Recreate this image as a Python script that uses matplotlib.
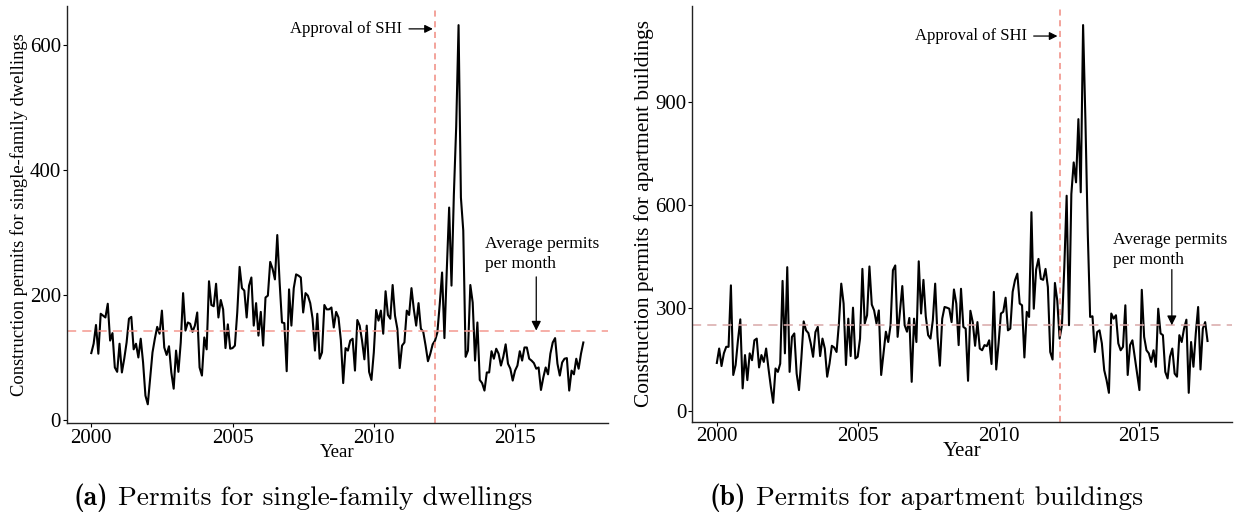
import matplotlib
matplotlib.use("Agg")
import matplotlib.pyplot as plt
import numpy as np
import pandas as pd

# monthly building permits, Jan 2000 - Jun 2017
single_family = [
    107, 122, 152, 106, 170, 167, 164, 186, 127, 139, 84, 77,
    122, 76, 98, 124, 162, 165, 113, 122, 100, 130, 92, 39,
    25, 66, 108, 130, 149, 138, 175, 116, 104, 118, 76, 50,
    111, 77, 124, 203, 143, 156, 154, 141, 151, 172, 84, 71,
    132, 113, 222, 184, 182, 218, 164, 192, 177, 115, 153, 114,
    115, 119, 172, 245, 211, 207, 164, 215, 228, 151, 187, 135,
    173, 119, 196, 199, 253, 242, 225, 296, 220, 156, 155, 78,
    209, 151, 211, 233, 231, 228, 172, 203, 199, 187, 162, 111,
    170, 98, 108, 184, 177, 177, 180, 148, 173, 164, 128, 59,
    115, 111, 127, 130, 79, 160, 151, 127, 97, 151, 77, 64,
    108, 176, 159, 175, 138, 206, 168, 162, 216, 167, 146, 83,
    119, 124, 175, 168, 211, 177, 151, 187, 146, 141, 119, 94,
    106, 121, 127, 140, 185, 236, 131, 240, 340, 215, 360, 470,
    632, 356, 303, 101, 111, 216, 188, 95, 156, 64, 59, 47,
    76, 76, 110, 98, 114, 106, 87, 101, 121, 90, 82, 63,
    79, 87, 110, 95, 116, 116, 98, 95, 91, 82, 84, 48,
    68, 84, 73, 106, 124, 131, 90, 71, 92, 98, 99, 47,
    79, 73, 98, 82, 106, 124,
]

apartments = [
    140, 182, 131, 168, 187, 187, 366, 105, 134, 206, 267, 66,
    163, 90, 168, 148, 206, 211, 127, 163, 143, 182, 124, 71,
    24, 124, 114, 138, 379, 168, 419, 114, 216, 226, 109, 61,
    153, 261, 235, 227, 197, 158, 230, 245, 160, 211, 182, 100,
    138, 190, 185, 172, 255, 371, 313, 134, 269, 160, 301, 153,
    158, 211, 414, 255, 279, 421, 310, 293, 255, 293, 105, 168,
    231, 201, 250, 410, 424, 216, 289, 364, 250, 231, 271, 85,
    269, 201, 436, 284, 382, 276, 221, 211, 264, 371, 216, 132,
    269, 303, 301, 298, 259, 354, 313, 192, 356, 245, 240, 88,
    292, 259, 190, 259, 182, 177, 192, 189, 206, 137, 347, 121,
    197, 284, 289, 330, 235, 240, 347, 381, 400, 313, 308, 156,
    289, 274, 579, 298, 412, 443, 385, 382, 414, 361, 172, 150,
    373, 322, 211, 250, 419, 627, 250, 632, 724, 666, 850, 637,
    1124, 845, 516, 274, 276, 172, 230, 235, 197, 119, 90, 53,
    284, 269, 279, 197, 177, 187, 308, 105, 192, 206, 158, 109,
    61, 353, 216, 177, 168, 143, 177, 129, 298, 226, 221, 114,
    95, 158, 182, 109, 100, 221, 201, 240, 266, 53, 201, 129,
    226, 303, 121, 240, 259, 204,
]

avg_single = 143
avg_apart = 250
shi_date = 2012.17

months = pd.date_range("2000-01-01", periods=len(single_family), freq="MS")
year = months.year + (months.month - 1) / 12

axis_font = "Liberation Serif"
salmon = "#f08a80"


def panel(ax, values, avg, yticks, ylabel, ylab_size, xlab_size, shi_y,
          avg_txt_xy, avg_arrow, avg_color):
    ax.plot(year, values, color="black", lw=1.5)
    ax.axhline(avg, color=avg_color, lw=1.1, ls=(0, (6, 4)))
    ax.axvline(shi_date, color=salmon, lw=1.1, ls=(0, (4, 3)))

    ax.set_yticks(yticks)
    ax.set_xticks([2000, 2005, 2010, 2015])
    for s in ["top", "right"]:
        ax.spines[s].set_visible(False)
    for s in ["left", "bottom"]:
        ax.spines[s].set_color("#222222")
        ax.spines[s].set_linewidth(1.0)
    ax.tick_params(length=3, width=0.8, pad=1, labelsize=15)
    for lab in ax.get_xticklabels() + ax.get_yticklabels():
        lab.set_fontfamily(axis_font)
    ax.set_xlabel("Year", fontsize=xlab_size, family=axis_font, labelpad=-3)
    ax.set_ylabel(ylabel, fontsize=ylab_size, family=axis_font, labelpad=1)

    ax.annotate("Approval of SHI", xy=(shi_date - 0.08, shi_y), xytext=(2011.0, shi_y),
                ha="right", va="center", fontsize=12, family=axis_font,
                arrowprops=dict(arrowstyle="-|>", color="black", lw=0.9,
                                mutation_scale=12, shrinkA=3, shrinkB=0))
    ax.text(avg_txt_xy[0], avg_txt_xy[1], "Average permits\nper month", ha="left",
            va="top", fontsize=12.5, family=axis_font, linespacing=1.3)
    ax.annotate("", xy=avg_arrow[1], xytext=avg_arrow[0],
                arrowprops=dict(arrowstyle="-|>", color="black", lw=0.9,
                                mutation_scale=14, shrinkA=0, shrinkB=0))


fig = plt.figure(figsize=(12.44, 5.14), dpi=100)
ax1 = fig.add_axes([0.0536, 0.1765, 0.4351, 0.8115])
ax2 = fig.add_axes([0.5565, 0.1796, 0.4339, 0.8084])

panel(ax1, single_family, avg_single, [0, 200, 400, 600],
      "Construction permits for single-family dwellings", 13.3, 13.5, 626,
      (2013.95, 294), ((2015.75, 229), (2015.75, avg_single)), "#f4988f")
panel(ax2, apartments, avg_apart, [0, 300, 600, 900],
      "Construction permits for apartment buildings", 15.4, 15, 1092,
      (2014.05, 520), ((2016.15, 412), (2016.15, avg_apart)), "#d9a8a8")

# subfigure captions
for x0, tag, txt in [(73, "(a)", "Permits for single-family dwellings"),
                     (710, "(b)", "Permits for apartment buildings")]:
    t = fig.text(x0 / 1244, 1 - 505 / 514, tag, fontsize=19.8, family="cmb10",
                 ha="left", va="baseline")
    fig.canvas.draw()
    bb = t.get_window_extent()
    fig.text((bb.x1 + 10) / 1244, 1 - 505 / 514, txt, fontsize=19.8, family="cmr10",
             ha="left", va="baseline")

fig.savefig("out.png", dpi=100)
